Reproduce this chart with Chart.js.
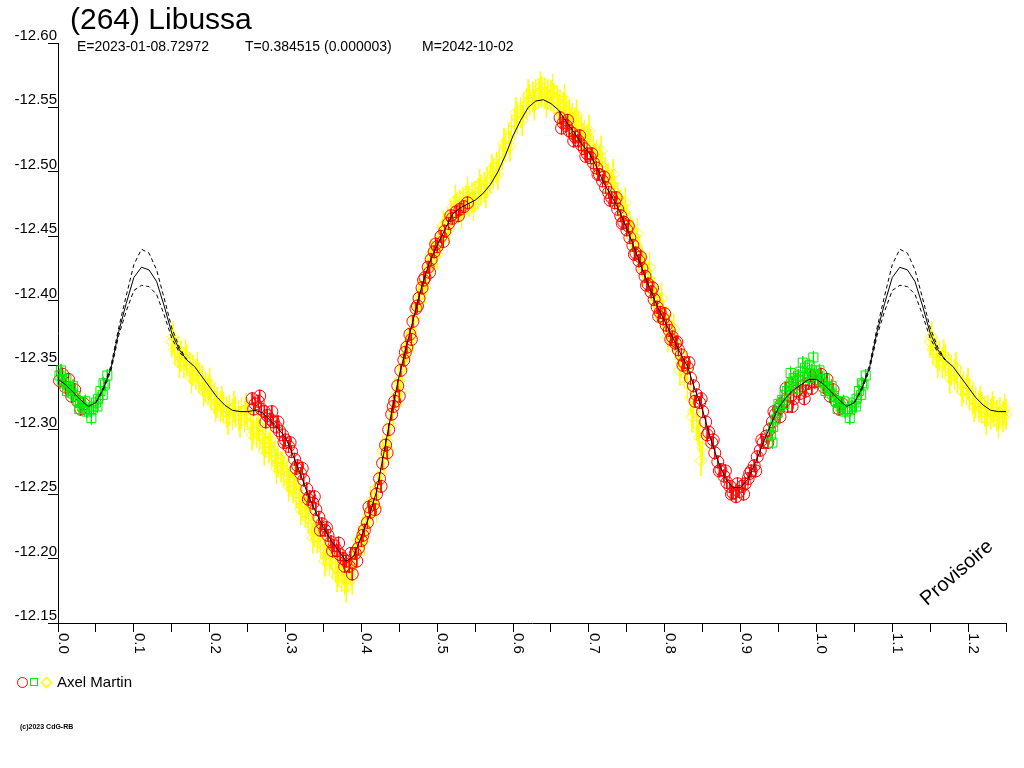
<!DOCTYPE html>
<html>
<head>
<meta charset="utf-8">
<title>(264) Libussa</title>
<script src="https://cdn.jsdelivr.net/npm/chart.js@4.4.1/dist/chart.umd.min.js"></script>
<style>
  html, body { margin: 0; padding: 0; background: #fff; }
  canvas { display: block; }
</style>
</head>
<body>
<canvas id="lightcurve" width="1024" height="768"></canvas>
<script>
'use strict'

const title = '(264) Libussa';
const infoTexts = ['E=2023-01-08.72972', 'T=0.384515 (0.000003)', 'M=2042-10-02'];
const observer = 'Axel Martin';
const stamp = 'Provisoire';
const copyright = '(c)2023 CdG-RB';

const phaseMin = 0, phaseMax = 1.25, phaseStep = 0.05;
const magTop = -12.60, magBottom = -12.15, magStep = 0.05;

// fitted curve, one value every 0.01 in phase
const modelPhase = [
  0.00,0.01,0.02,0.03,0.04,0.05,0.06,0.07,0.08,0.09,0.10,0.11,0.12,0.13,0.14,0.15,0.16,0.17,0.18,0.19,
  0.20,0.21,0.22,0.23,0.24,0.25,0.26,0.27,0.28,0.29,0.30,0.31,0.32,0.33,0.34,0.35,0.36,0.37,0.38,0.39,
  0.40,0.41,0.42,0.43,0.44,0.45,0.46,0.47,0.48,0.49,0.50,0.51,0.52,0.53,0.54,0.55,0.56,0.57,0.58,0.59,
  0.60,0.61,0.62,0.63,0.64,0.65,0.66,0.67,0.68,0.69,0.70,0.71,0.72,0.73,0.74,0.75,0.76,0.77,0.78,0.79,
  0.80,0.81,0.82,0.83,0.84,0.85,0.86,0.87,0.88,0.89,0.90,0.91,0.92,0.93,0.94,0.95,0.96,0.97,0.98,0.99,1.00
];
const modelMag = [
  -12.339,-12.335,-12.329,-12.323,-12.318,-12.321,-12.332,-12.348,-12.376,-12.398,
  -12.418,-12.426,-12.424,-12.415,-12.396,-12.375,-12.362,-12.354,-12.349,-12.341,
  -12.333,-12.325,-12.319,-12.315,-12.314,-12.314,-12.315,-12.313,-12.307,-12.301,
  -12.294,-12.280,-12.265,-12.249,-12.236,-12.224,-12.214,-12.206,-12.198,-12.202,
  -12.217,-12.232,-12.252,-12.283,-12.314,-12.342,-12.366,-12.389,-12.412,-12.430,
  -12.443,-12.455,-12.467,-12.472,-12.475,-12.478,-12.483,-12.490,-12.500,-12.513,
  -12.528,-12.540,-12.550,-12.555,-12.556,-12.553,-12.548,-12.539,-12.531,-12.522,
  -12.515,-12.504,-12.491,-12.481,-12.470,-12.456,-12.441,-12.425,-12.410,-12.396,
  -12.384,-12.372,-12.360,-12.349,-12.331,-12.315,-12.294,-12.276,-12.262,-12.255,
  -12.255,-12.262,-12.275,-12.290,-12.304,-12.317,-12.325,-12.331,-12.335,-12.339,-12.339
];

// uncertainty envelope, only visible where the data has a gap
const envPhase = [0.05,0.06,0.07,0.08,0.09,0.10,0.11,0.12,0.13,0.14,0.15,0.16,0.17];
const envUpper = [-12.321,-12.333,-12.350,-12.379,-12.404,-12.428,-12.440,-12.437,-12.424,-12.402,-12.379,-12.364,-12.354];
const envLower = [-12.321,-12.331,-12.346,-12.373,-12.392,-12.408,-12.412,-12.411,-12.405,-12.389,-12.371,-12.360,-12.354];

// observations [phase, magnitude]
const redObs = [
  [0.002,-12.338],[0.006,-12.343],[0.010,-12.333],[0.014,-12.339],[0.018,-12.326],[0.022,-12.331],[0.026,-12.322],[0.030,-12.316],[0.034,-12.320],
  [0.256,-12.324],[0.260,-12.320],[0.264,-12.322],[0.268,-12.316],[0.272,-12.314],[0.276,-12.311],[0.280,-12.308],[0.284,-12.306],[0.288,-12.302],
  [0.292,-12.299],[0.296,-12.296],[0.300,-12.292],[0.304,-12.287],[0.308,-12.283],[0.312,-12.277],[0.316,-12.272],[0.320,-12.266],[0.324,-12.261],
  [0.328,-12.254],[0.332,-12.248],[0.336,-12.243],[0.340,-12.238],[0.344,-12.232],[0.348,-12.227],[0.352,-12.222],[0.356,-12.218],[0.360,-12.213],
  [0.364,-12.210],[0.368,-12.206],[0.372,-12.203],[0.376,-12.200],[0.380,-12.198],[0.384,-12.194],[0.388,-12.188],[0.392,-12.204],[0.396,-12.208],
  [0.400,-12.214],[0.404,-12.222],[0.408,-12.228],[0.412,-12.236],[0.416,-12.242],[0.420,-12.250],[0.424,-12.262],[0.428,-12.274],[0.432,-12.288],
  [0.436,-12.300],[0.440,-12.312],[0.444,-12.322],[0.448,-12.334],[0.452,-12.346],[0.456,-12.354],[0.460,-12.364],[0.464,-12.374],[0.468,-12.384],
  [0.472,-12.394],[0.476,-12.402],[0.480,-12.410],[0.484,-12.418],[0.488,-12.426],[0.492,-12.432],[0.496,-12.438],[0.500,-12.442],[0.505,-12.450],
  [0.510,-12.454],[0.515,-12.460],[0.520,-12.464],[0.525,-12.469],[0.530,-12.471],[0.535,-12.473],[0.540,-12.476],
  [0.258,-12.316],[0.266,-12.326],[0.274,-12.306],[0.282,-12.314],[0.290,-12.306],[0.298,-12.290],[0.306,-12.290],[0.314,-12.270],[0.322,-12.270],
  [0.330,-12.246],[0.338,-12.248],[0.346,-12.222],[0.354,-12.224],[0.362,-12.206],[0.370,-12.212],[0.378,-12.194],[0.386,-12.204],[0.394,-12.198],
  [0.402,-12.218],[0.410,-12.240],[0.418,-12.238],[0.426,-12.256],[0.434,-12.282],[0.442,-12.318],[0.450,-12.326],[0.458,-12.360],[0.466,-12.370],
  [0.474,-12.396],[0.482,-12.416],[0.490,-12.422],[0.498,-12.444],[0.508,-12.446],[0.518,-12.466],[0.528,-12.466],
  [0.662,-12.542],[0.666,-12.538],[0.670,-12.536],[0.674,-12.532],[0.678,-12.530],[0.682,-12.527],[0.686,-12.524],[0.690,-12.521],[0.694,-12.518],
  [0.698,-12.514],[0.702,-12.511],[0.706,-12.507],[0.710,-12.503],[0.714,-12.498],[0.718,-12.493],[0.722,-12.488],[0.726,-12.484],[0.730,-12.480],
  [0.734,-12.476],[0.738,-12.471],[0.742,-12.466],[0.746,-12.461],[0.750,-12.455],[0.754,-12.449],[0.758,-12.443],[0.762,-12.437],[0.766,-12.431],
  [0.770,-12.425],[0.774,-12.419],[0.778,-12.413],[0.782,-12.407],[0.786,-12.401],[0.790,-12.395],[0.794,-12.391],[0.798,-12.386],[0.802,-12.381],
  [0.806,-12.377],[0.810,-12.372],[0.814,-12.367],[0.818,-12.362],[0.822,-12.358],[0.826,-12.352],[0.830,-12.348],[0.834,-12.340],[0.838,-12.334],
  [0.842,-12.327],[0.846,-12.321],[0.850,-12.314],[0.854,-12.306],[0.858,-12.298],[0.862,-12.290],[0.866,-12.282],[0.870,-12.275],[0.874,-12.269],
  [0.878,-12.264],[0.882,-12.259],[0.886,-12.256],[0.890,-12.251],[0.894,-12.248],[0.898,-12.252],[0.902,-12.256],[0.906,-12.258],[0.910,-12.262],
  [0.914,-12.268],[0.918,-12.272],[0.922,-12.279],[0.926,-12.284],[0.930,-12.290],[0.934,-12.295],[0.938,-12.300],[0.942,-12.306],[0.946,-12.312],
  [0.950,-12.316],[0.954,-12.320],[0.958,-12.322],[0.962,-12.318],[0.966,-12.326],[0.970,-12.324],[0.974,-12.330],[0.978,-12.328],[0.982,-12.334],
  [0.986,-12.330],[0.990,-12.336],[0.994,-12.332],[0.998,-12.337],
  [0.664,-12.534],[0.672,-12.540],[0.680,-12.524],[0.688,-12.528],[0.696,-12.512],[0.704,-12.514],[0.712,-12.498],[0.720,-12.496],[0.728,-12.478],
  [0.736,-12.480],[0.744,-12.460],[0.752,-12.458],[0.760,-12.436],[0.768,-12.434],[0.776,-12.412],[0.784,-12.410],[0.792,-12.388],[0.800,-12.390],
  [0.808,-12.370],[0.816,-12.368],[0.824,-12.350],[0.832,-12.352],[0.840,-12.322],[0.848,-12.324],[0.856,-12.296],[0.864,-12.292],[0.872,-12.268],
  [0.880,-12.268],[0.888,-12.250],[0.896,-12.258],[0.904,-12.250],[0.912,-12.266],[0.920,-12.268],[0.928,-12.292],[0.936,-12.290],[0.944,-12.314],
  [0.952,-12.310],[0.960,-12.332],[0.968,-12.318],[0.976,-12.338],[0.984,-12.324],[0.992,-12.342]
];
const greenObs = [
  [0.002,-12.342],[0.005,-12.338],[0.008,-12.336],[0.011,-12.339],[0.014,-12.333],[0.017,-12.331],[0.020,-12.328],[0.023,-12.326],
  [0.026,-12.322],[0.029,-12.321],[0.032,-12.318],[0.035,-12.316],[0.038,-12.314],[0.041,-12.316],[0.044,-12.315],[0.047,-12.318],
  [0.050,-12.321],[0.053,-12.324],[0.056,-12.330],[0.059,-12.327],[0.062,-12.335],[0.065,-12.342],
  [0.004,-12.346],[0.012,-12.330],[0.020,-12.334],[0.028,-12.316],[0.036,-12.322],[0.044,-12.309],[0.052,-12.318],[0.060,-12.336],
  [0.940,-12.296],[0.943,-12.302],[0.946,-12.308],[0.949,-12.313],[0.952,-12.318],[0.955,-12.323],[0.958,-12.327],[0.961,-12.330],
  [0.964,-12.334],[0.967,-12.336],[0.970,-12.340],[0.973,-12.338],[0.976,-12.342],[0.979,-12.345],[0.982,-12.341],[0.985,-12.348],
  [0.988,-12.344],[0.991,-12.350],[0.994,-12.346],[0.997,-12.343],
  [0.942,-12.290],[0.950,-12.320],[0.958,-12.320],[0.966,-12.344],[0.974,-12.332],[0.982,-12.352],[0.990,-12.340],[0.996,-12.356]
];
const yellowObs = [
  [0.150,-12.368],[0.154,-12.362],[0.158,-12.360],[0.162,-12.357],[0.166,-12.352],[0.170,-12.354],[0.174,-12.348],[0.178,-12.346],[0.182,-12.343],
  [0.186,-12.340],[0.190,-12.338],[0.194,-12.333],[0.198,-12.331],[0.202,-12.327],[0.206,-12.324],[0.210,-12.321],[0.214,-12.318],[0.218,-12.317],
  [0.222,-12.314],[0.226,-12.315],[0.230,-12.312],[0.234,-12.314],[0.238,-12.311],[0.242,-12.313],[0.246,-12.310],[0.250,-12.312],
  [0.152,-12.372],[0.160,-12.352],[0.168,-12.358],[0.176,-12.340],[0.184,-12.348],[0.192,-12.330],[0.200,-12.336],[0.208,-12.318],[0.216,-12.322],
  [0.224,-12.308],[0.232,-12.318],[0.240,-12.306],[0.248,-12.316],
  [0.254,-12.304],[0.258,-12.300],[0.262,-12.298],[0.266,-12.296],[0.270,-12.293],[0.274,-12.290],[0.278,-12.286],[0.282,-12.283],[0.286,-12.279],
  [0.290,-12.275],[0.294,-12.271],[0.298,-12.268],[0.302,-12.264],[0.306,-12.260],[0.310,-12.255],[0.314,-12.251],[0.318,-12.246],[0.322,-12.241],
  [0.326,-12.236],[0.330,-12.231],[0.334,-12.226],[0.338,-12.221],[0.342,-12.216],[0.346,-12.212],[0.350,-12.207],[0.354,-12.203],[0.358,-12.199],
  [0.362,-12.196],[0.366,-12.193],[0.370,-12.190],[0.374,-12.186],[0.378,-12.184],[0.382,-12.186],[0.386,-12.192],[0.390,-12.199],[0.394,-12.206],
  [0.398,-12.212],[0.402,-12.220],[0.406,-12.227],[0.410,-12.234],[0.414,-12.241],[0.418,-12.247],[0.422,-12.256],[0.426,-12.266],[0.430,-12.278],
  [0.434,-12.291],[0.438,-12.304],[0.442,-12.316],
  [0.256,-12.296],[0.264,-12.304],[0.272,-12.284],[0.280,-12.292],[0.288,-12.270],[0.296,-12.276],[0.304,-12.256],[0.312,-12.262],[0.320,-12.238],
  [0.328,-12.242],[0.336,-12.216],[0.344,-12.220],[0.352,-12.198],[0.360,-12.204],[0.368,-12.186],[0.376,-12.192],[0.380,-12.178],[0.388,-12.184],
  [0.396,-12.214],[0.404,-12.214],[0.412,-12.244],[0.420,-12.240],[0.428,-12.284],[0.436,-12.284],
  [0.446,-12.328],[0.450,-12.338],[0.454,-12.348],[0.458,-12.357],[0.462,-12.367],[0.466,-12.377],[0.470,-12.387],[0.474,-12.396],[0.478,-12.405],
  [0.482,-12.413],[0.486,-12.421],[0.490,-12.428],[0.494,-12.434],[0.498,-12.440],[0.502,-12.446],[0.506,-12.451],[0.510,-12.456],[0.514,-12.461],
  [0.518,-12.466],[0.522,-12.469],[0.526,-12.472],[0.530,-12.474],[0.534,-12.476],[0.538,-12.478],[0.542,-12.477],[0.546,-12.480],[0.550,-12.481],
  [0.554,-12.483],[0.558,-12.486],[0.562,-12.488],[0.566,-12.492],[0.570,-12.495],[0.574,-12.499],[0.578,-12.503],[0.582,-12.508],[0.586,-12.514],
  [0.590,-12.520],[0.594,-12.526],[0.598,-12.532],[0.602,-12.537],[0.606,-12.542],[0.610,-12.546],[0.614,-12.550],[0.618,-12.553],[0.622,-12.556],
  [0.626,-12.558],[0.630,-12.560],[0.634,-12.561],[0.638,-12.562],[0.642,-12.561],[0.646,-12.560],
  [0.452,-12.330],[0.460,-12.364],[0.468,-12.372],[0.476,-12.404],[0.484,-12.410],[0.492,-12.436],[0.500,-12.436],[0.508,-12.458],[0.516,-12.456],
  [0.524,-12.478],[0.532,-12.468],[0.540,-12.484],[0.548,-12.474],[0.556,-12.490],[0.564,-12.484],[0.572,-12.502],[0.580,-12.498],[0.588,-12.522],
  [0.596,-12.520],[0.604,-12.546],[0.612,-12.540],[0.620,-12.560],[0.628,-12.552],[0.636,-12.566],[0.644,-12.554],
  [0.650,-12.559],[0.654,-12.557],[0.658,-12.555],[0.662,-12.552],[0.666,-12.550],[0.670,-12.547],[0.674,-12.544],[0.678,-12.541],[0.682,-12.538],
  [0.686,-12.535],[0.690,-12.532],[0.694,-12.528],[0.698,-12.525],[0.702,-12.521],[0.706,-12.517],[0.710,-12.513],[0.714,-12.509],[0.718,-12.504],
  [0.722,-12.500],[0.726,-12.495],[0.730,-12.490],[0.734,-12.485],[0.738,-12.480],[0.742,-12.474],[0.746,-12.469],[0.750,-12.463],[0.754,-12.457],
  [0.758,-12.451],[0.762,-12.444],[0.766,-12.438],[0.770,-12.431],[0.774,-12.425],[0.778,-12.418],[0.782,-12.412],[0.786,-12.406],[0.790,-12.400],
  [0.794,-12.394],[0.798,-12.389],[0.802,-12.384],[0.806,-12.378],[0.810,-12.372],[0.814,-12.366],[0.818,-12.360],[0.822,-12.352],[0.826,-12.344],
  [0.830,-12.336],[0.834,-12.325],[0.838,-12.314],[0.842,-12.304],[0.846,-12.294],[0.850,-12.286],
  [0.652,-12.564],[0.660,-12.548],[0.668,-12.556],[0.676,-12.538],[0.684,-12.544],[0.692,-12.526],[0.700,-12.532],[0.708,-12.510],[0.716,-12.516],
  [0.724,-12.494],[0.732,-12.498],[0.740,-12.474],[0.748,-12.476],[0.756,-12.450],[0.764,-12.452],[0.772,-12.424],[0.780,-12.426],[0.788,-12.398],
  [0.796,-12.402],[0.804,-12.372],[0.812,-12.378],[0.820,-12.346],[0.828,-12.348],[0.836,-12.310],[0.844,-12.300],[0.848,-12.276]
];

// typical error bar half-length per session
const redErr = 0.005;
const greenErr = 0.005;
const yellowErr = 0.012;

const RED = '#ff0000', GREEN = '#00ee00', YELLOW = '#ffff00';
const FONT = '"Liberation Sans", Arial, Helvetica, sans-serif';

// phases below 0.25 are shown a second time after 1.0
function fold(list) {
  const out = list.map(([p, m]) => ({x: p, y: m}));
  list.forEach(([p, m]) => {
    if (p + 1 <= phaseMax + 1e-9) out.push({x: p + 1, y: m});
  });
  return out;
}

function errorBars(list, err) {
  const out = [];
  fold(list).forEach(pt => {
    out.push({x: pt.x, y: pt.y - err}, {x: pt.x, y: pt.y + err}, {x: pt.x, y: null});
  });
  return out;
}

function envelope(values) {
  const first = envPhase.map((p, i) => ({x: p, y: values[i]}));
  const second = envPhase.map((p, i) => ({x: p + 1, y: values[i]}));
  return first.concat([{x: 0.5, y: null}], second);
}

const modelPoints = fold(modelPhase.map((p, i) => [p, modelMag[i]]));

function obsSet(label, list, color, style, radius, order) {
  return {
    label: label,
    data: fold(list),
    pointStyle: style,
    pointRadius: radius,
    borderColor: color,
    backgroundColor: 'rgba(0,0,0,0)',
    pointBorderWidth: 1,
    showLine: false,
    clip: false,
    order: order
  };
}

function errSet(list, err, color, order) {
  return {
    data: errorBars(list, err),
    showLine: true,
    spanGaps: false,
    pointRadius: 0,
    borderColor: color,
    borderWidth: 1,
    clip: false,
    order: order
  };
}

function curveSet(data, dash, order) {
  return {
    data: data,
    showLine: true,
    spanGaps: false,
    pointRadius: 0,
    borderColor: '#000',
    borderWidth: 1,
    borderDash: dash,
    tension: 0,
    clip: false,
    order: order
  };
}

const decorations = {
  id: 'decorations',
  afterDraw(chart) {
    const ctx = chart.ctx;
    const xs = chart.scales.x, ys = chart.scales.y;
    ctx.save();
    ctx.fillStyle = '#000';

    // magnitude labels sit just above their tick
    ctx.font = '15px ' + FONT;
    ctx.textAlign = 'right';
    ctx.textBaseline = 'alphabetic';
    ys.ticks.forEach(t => {
      ctx.fillText(t.value.toFixed(2), xs.left - 1, ys.getPixelForValue(t.value) - 3);
    });

    // phase labels, turned a quarter clockwise
    ctx.textAlign = 'left';
    xs.ticks.forEach(t => {
      const n = Math.round(t.value * 20);
      if (n % 2 !== 0) return;
      ctx.save();
      ctx.translate(xs.getPixelForValue(t.value), ys.bottom + 10);
      ctx.rotate(Math.PI / 2);
      ctx.fillText((n / 20).toFixed(1), 0, -1);
      ctx.restore();
    });

    ctx.font = '30px ' + FONT;
    ctx.fillText(title, 70, 29);
    ctx.font = '14px ' + FONT;
    ctx.fillText(infoTexts[0], 77, 51);
    ctx.fillText(infoTexts[1], 245, 51);
    ctx.fillText(infoTexts[2], 422, 51);

    // legend
    ctx.lineWidth = 1;
    ctx.strokeStyle = RED;
    ctx.beginPath();
    ctx.arc(22.5, 682.5, 5, 0, Math.PI * 2);
    ctx.stroke();
    ctx.strokeStyle = GREEN;
    ctx.strokeRect(30.5, 678.5, 7, 7);
    ctx.lineWidth = 1.6;
    ctx.strokeStyle = YELLOW;
    ctx.beginPath();
    ctx.moveTo(46.5, 677.5);
    ctx.lineTo(51.5, 682.5);
    ctx.lineTo(46.5, 687.5);
    ctx.lineTo(41.5, 682.5);
    ctx.closePath();
    ctx.stroke();
    ctx.font = '15px ' + FONT;
    ctx.fillText(observer, 57, 687);

    ctx.font = 'bold 7px ' + FONT;
    ctx.fillText(copyright, 20, 729);

    ctx.save();
    ctx.translate(957, 573);
    ctx.rotate(-41 * Math.PI / 180);
    ctx.font = '20px ' + FONT;
    ctx.textAlign = 'center';
    ctx.textBaseline = 'middle';
    ctx.fillText(stamp, 0, 0);
    ctx.restore();

    ctx.restore();
  }
};

new Chart(document.getElementById('lightcurve').getContext('2d'), {
  type: 'scatter',
  data: {
    datasets: [
      curveSet(modelPoints, [], 0),
      curveSet(envelope(envUpper), [4, 3], 0),
      curveSet(envelope(envLower), [4, 3], 0),
      obsSet('green', greenObs, GREEN, 'rect', 6.4, 1),
      errSet(greenObs, greenErr, GREEN, 2),
      obsSet('red', redObs, RED, 'circle', 6, 3),
      errSet(redObs, redErr, RED, 4),
      obsSet('yellow', yellowObs, YELLOW, 'rectRot', 6, 5),
      errSet(yellowObs, yellowErr, YELLOW, 6)
    ]
  },
  options: {
    responsive: false,
    animation: false,
    events: [],
    layout: { padding: { left: 48, top: 43, right: 18, bottom: 136 } },
    plugins: { legend: { display: false }, tooltip: { enabled: false } },
    scales: {
      x: {
        type: 'linear',
        min: phaseMin,
        max: phaseMax,
        ticks: { display: false, stepSize: phaseStep },
        grid: { drawOnChartArea: false, drawTicks: true, tickLength: 9, color: '#000' },
        border: { display: true, color: '#000', width: 1 }
      },
      y: {
        type: 'linear',
        reverse: true,
        min: magTop,
        max: magBottom,
        ticks: { display: false, stepSize: magStep },
        grid: { drawOnChartArea: false, drawTicks: true, tickLength: 10, color: '#000' },
        border: { display: true, color: '#000', width: 1 }
      }
    }
  },
  plugins: [decorations]
});
</script>
</body>
</html>
